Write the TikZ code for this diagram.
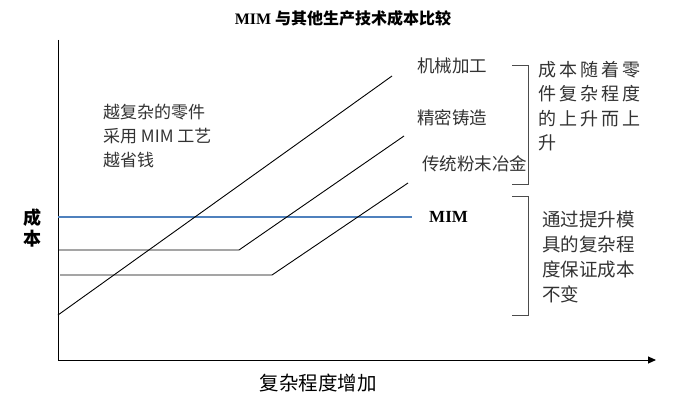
\documentclass[tikz,border=0pt]{standalone}
\usepackage{fontspec}
\setmainfont{Liberation Serif}
\newfontfamily\cjk{Noto Sans CJK SC}
\definecolor{mimblue}{RGB}{79,129,189}
\usetikzlibrary{arrows.meta}
\begin{document}
\begin{tikzpicture}[x=1pt,y=-1pt,
  lbl/.style={font=\cjk\fontsize{17.5}{20}\selectfont,inner sep=0,anchor=west,text=black!80},
  blk/.style={inner sep=0,anchor=north west,align=left,text=black!80},
  ln/.style={draw=black,line width=0.9pt}]
\useasboundingbox[fill=white] (0,0) rectangle (684,401);
\node[font=\bfseries\fontsize{16}{18}\selectfont,inner sep=0] (title) at (343,18) {MIM {\cjk 与其他生产技术成本比较}};
\coordinate (o) at (58,360);
\coordinate (ytop) at (58,40);
\coordinate (xend) at (656,360);
\draw[line width=1pt] (ytop) -- (o);
\draw[line width=1pt,-{Triangle[length=8pt,width=7pt]}] (o) -- (xend);
\node[font=\cjk\bfseries\fontsize{18}{21}\selectfont,align=center,inner sep=0] (ylab) at (32,228) {成\\本};
\node[font=\cjk\fontsize{19.5}{22}\selectfont,inner sep=0] (xlab) at (318,383) {复杂程度增加};
% MIM line
\coordinate (m0) at (58,217); \coordinate (m1) at (412,217);
\draw[mimblue,line width=2pt] (m0) -- (m1);
\node[font=\bfseries\fontsize{17}{19}\selectfont,inner sep=0,anchor=west] (mim) at (429,217) {MIM};
% machining
\coordinate (a0) at (58,315); \coordinate (a1) at (392,76);
\draw[ln] (a0) -- (a1);
% casting
\coordinate (b0) at (58,250); \coordinate (b1) at (239,250); \coordinate (b2) at (404,136);
\draw[ln] (b0) -- (b1) -- (b2);
% PM
\coordinate (c0) at (60,275); \coordinate (c1) at (272,275); \coordinate (c2) at (408,183);
\draw[ln] (c0) -- (c1) -- (c2);
\node[lbl] (la) at (417,66) {机械加工};
\node[lbl] (lb) at (417,118) {精密铸造};
\node[lbl] (lc) at (422,164) {传统粉末冶金};
\node[blk,font=\cjk\fontsize{17}{24}\selectfont] (left) at (103,104) {越复杂的零件\\采用 MIM 工艺\\越省钱};
% brackets
\draw[black!70,line width=0.7pt] (512,65) -- (528,65) -- (528,184) -- (512,184);
\draw[black!70,line width=0.7pt] (512,196) -- (528,196) -- (528,315) -- (512,315);
\node[blk,font=\cjk\fontsize{18}{24.5}\selectfont] (r1) at (538,61) {成\kern3pt本\kern3pt随\kern3pt着\kern3pt零\\件\kern3pt复\kern3pt杂\kern3pt程\kern3pt度\\的\kern3pt上\kern3pt升\kern3pt而\kern3pt上\\升};
\node[blk,font=\cjk\fontsize{18.5}{25}\selectfont] (r2) at (542,211) {通过提升模\\具的复杂程\\度保证成本\\不变};
\end{tikzpicture}
\end{document}
